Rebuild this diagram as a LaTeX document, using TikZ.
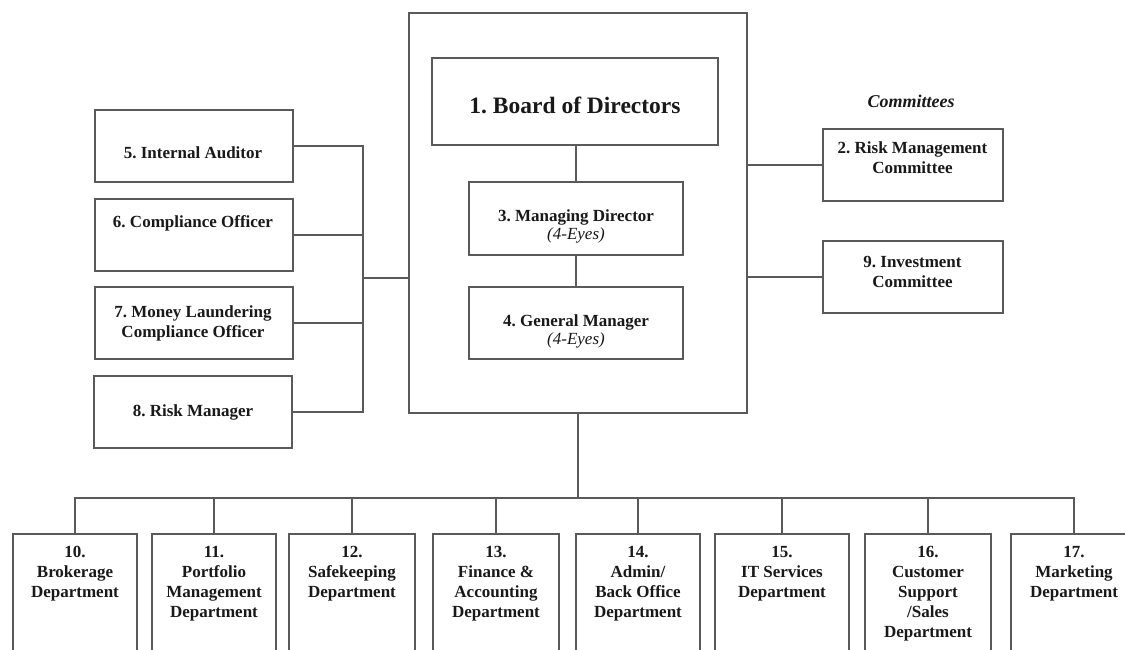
\documentclass[tikz,border=0pt]{standalone}
\usepackage{fontspec}
\setmainfont{Liberation Serif}
\definecolor{textgray}{RGB}{25,25,25}
\definecolor{linegray}{RGB}{90,90,90}
\frenchspacing
\begin{document}
\begin{tikzpicture}[x=1pt,y=-1pt,
  conn/.style={draw=linegray, line width=2pt},
  box/.style={draw=linegray, line width=2pt, rectangle, inner sep=0pt},
  txt/.style={font=\fontsize{17}{20}\selectfont\bfseries, text=textgray, align=center, inner sep=0pt},
  mgr/.style={font=\fontsize{17}{18}\selectfont\bfseries, text=textgray, align=center, inner sep=0pt},
  dept/.style={box, anchor=north, minimum height=140pt},
  depttxt/.style={txt, anchor=north}
]
\path[use as bounding box, clip] (0,0) rectangle (1125,650);
\fill[white] (0,0) rectangle (1125,650);

% central block
\node[box, minimum width=338pt, minimum height=400pt] (big) at (578,213) {};
\node[box, minimum width=286pt, minimum height=87pt] (b1) at (575,101.5) {};
\node[box, minimum width=214pt, minimum height=73pt] (b3) at (576,218.5) {};
\node[box, minimum width=214pt, minimum height=72pt] (b4) at (576,323) {};
\node[txt, font=\fontsize{23.5}{26}\selectfont\bfseries] (t1) at (575,105) {1. Board of Directors};
\node[mgr] (t3) at (576,226) {3. Managing Director\\{\mdseries\itshape (4-Eyes)}};
\node[mgr] (t4) at (576,331) {4. General Manager\\{\mdseries\itshape (4-Eyes)}};
\draw[conn] (b3.north |- b1.south) -- (b3.north);
\draw[conn] (b3.south) -- (b4.north);

% left staff boxes
\node[box, minimum width=198pt, minimum height=72pt] (b5) at (194,146) {};
\node[box, minimum width=198pt, minimum height=72pt] (b6) at (194,235) {};
\node[box, minimum width=198pt, minimum height=72pt] (b7) at (194,323) {};
\node[box, minimum width=198pt, minimum height=72pt] (b8) at (193,412) {};
\node[txt] (t5) at (193,153) {5. Internal Auditor};
\node[txt] (t6) at (193,223) {6. Compliance Officer};
\node[txt] (t7) at (193,323) {7. Money Laundering\\Compliance Officer};
\node[txt] (t8) at (193,412) {8. Risk Manager};
\coordinate (lbus) at (363,278);
\draw[conn] (b5.east) -| (lbus);
\draw[conn] (b8.east) -| (lbus);
\draw[conn] (b6.east) -- (b6.east -| lbus);
\draw[conn] (b7.east) -- (b7.east -| lbus);
\draw[conn] (lbus) -- (lbus -| big.west);

% committees
\node[font=\fontsize{18}{20}\selectfont\bfseries\itshape, text=textgray, inner sep=0pt] (tc) at (911,101) {Committees};
\node[box, minimum width=180pt, minimum height=72pt] (b2) at (913,165) {};
\node[box, minimum width=180pt, minimum height=72pt] (b9) at (913,277) {};
\node[txt] (t2) at (912.5,158) {2. Risk Management\\Committee};
\node[txt] (t9) at (912.5,272) {9. Investment\\Committee};
\draw[conn] (big.east |- b2.west) -- (b2.west);
\draw[conn] (big.east |- b9.west) -- (b9.west);

% departments
\node[dept, minimum width=124pt] (b10) at (75,533) {};
\node[dept, minimum width=124pt] (b11) at (214,533) {};
\node[dept, minimum width=126pt] (b12) at (352,533) {};
\node[dept, minimum width=126pt] (b13) at (496,533) {};
\node[dept, minimum width=124pt] (b14) at (638,533) {};
\node[dept, minimum width=134pt] (b15) at (782,533) {};
\node[dept, minimum width=126pt] (b16) at (928,533) {};
\node[dept, minimum width=126pt] (b17) at (1074,533) {};
\node[depttxt] (t10) at (75,546) {10.\\Brokerage\\Department};
\node[depttxt] (t11) at (214,546) {11.\\Portfolio\\Management\\Department};
\node[depttxt] (t12) at (352,546) {12.\\Safekeeping\\Department};
\node[depttxt] (t13) at (496,546) {13.\\Finance \&\\Accounting\\Department};
\node[depttxt] (t14) at (638,546) {14.\\Admin/\\Back Office\\Department};
\node[depttxt] (t15) at (782,546) {15.\\IT Services\\Department};
\node[depttxt] (t16) at (928,546) {16.\\Customer\\Support\\/Sales\\Department};
\node[depttxt] (t17) at (1074,546) {17.\\Marketing\\Department};

\coordinate (bus) at (578,498);
\draw[conn] (big.south) -- (bus);
\draw[conn] (b10.north) -- (b10.north |- bus) -- (b17.north |- bus) -- (b17.north);
\foreach \b in {b11,b12,b13,b14,b15,b16}
  \draw[conn] (\b.north) -- (\b.north |- bus);
\end{tikzpicture}
\end{document}
